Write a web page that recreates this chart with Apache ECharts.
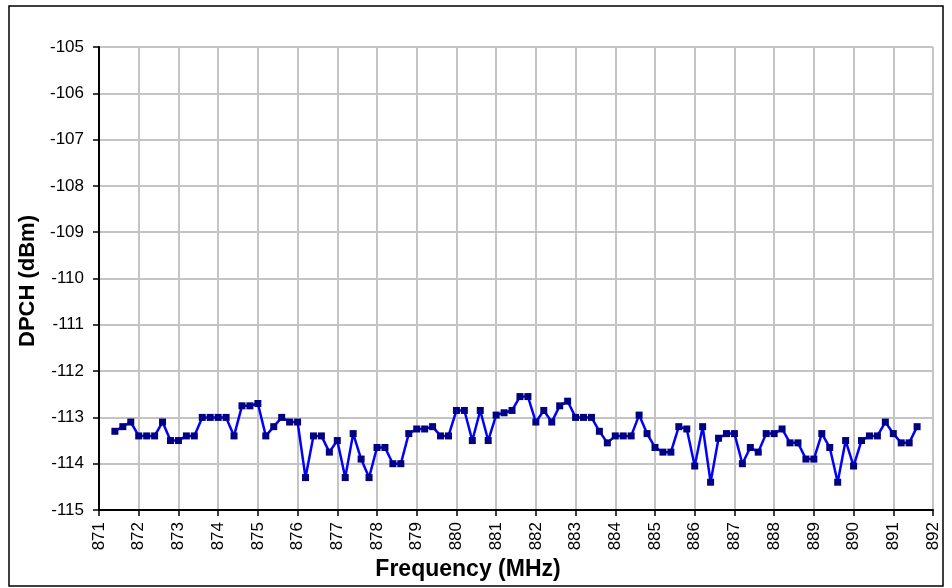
<!DOCTYPE html>
<html>
<head>
<meta charset="utf-8">
<script src="https://cdn.jsdelivr.net/npm/echarts@6/dist/echarts.min.js"></script>
<style>
  html, body { margin: 0; padding: 0; background: #fff; }
  #main { width: 952px; height: 588px; }
</style>
</head>
<body>
<div id="main"></div>
<script>
// frequency points, MHz (0.2 MHz step)
var freqStart = 871.4;
var freqStep = 0.2;
// DPCH level at each point, dBm
var dpch = [
  -113.3, -113.2, -113.1, -113.4, -113.4, -113.4, -113.1, -113.5, -113.5, -113.4,
  -113.4, -113.0, -113.0, -113.0, -113.0, -113.4, -112.75, -112.75, -112.7, -113.4,
  -113.2, -113.0, -113.1, -113.1, -114.3, -113.4, -113.4, -113.75, -113.5, -114.3,
  -113.35, -113.9, -114.3, -113.65, -113.65, -114.0, -114.0, -113.35, -113.25, -113.25,
  -113.2, -113.4, -113.4, -112.85, -112.85, -113.5, -112.85, -113.5, -112.95, -112.9,
  -112.85, -112.55, -112.55, -113.1, -112.85, -113.1, -112.75, -112.65, -113.0, -113.0,
  -113.0, -113.3, -113.55, -113.4, -113.4, -113.4, -112.95, -113.35, -113.65, -113.75,
  -113.75, -113.2, -113.25, -114.05, -113.2, -114.4, -113.45, -113.35, -113.35, -114.0,
  -113.65, -113.75, -113.35, -113.35, -113.25, -113.55, -113.55, -113.9, -113.9, -113.35,
  -113.65, -114.4, -113.5, -114.05, -113.5, -113.4, -113.4, -113.1, -113.35, -113.55,
  -113.55, -113.2
];
var xMin = 871, xMax = 892;
var yMin = -115, yMax = -105;

var points = dpch.map(function (v, i) {
  return [+(freqStart + i * freqStep).toFixed(1), v];
});

var chart = echarts.init(document.getElementById('main'));

var option = {
  backgroundColor: '#ffffff',
  animation: false,
  grid: { left: 99, right: 19, top: 47, bottom: 78 },
  xAxis: {
    type: 'value',
    min: xMin,
    max: xMax,
    interval: 1,
    axisLine: { show: true, lineStyle: { color: '#000', width: 2 } },
    axisTick: { show: true, length: 6, lineStyle: { color: '#000', width: 1.5 } },
    axisLabel: {
      rotate: 90,
      margin: 12,
      color: '#000',
      fontFamily: 'Liberation Sans, Arial',
      fontSize: 17
    },
    splitLine: { show: true, lineStyle: { color: '#c4c4c4', width: 2 } }
  },
  yAxis: {
    type: 'value',
    min: yMin,
    max: yMax,
    interval: 1,
    axisLine: { show: true, lineStyle: { color: '#000', width: 2 } },
    axisTick: { show: true, length: 6, lineStyle: { color: '#000', width: 1.5 } },
    axisLabel: {
      margin: 15,
      color: '#000',
      fontFamily: 'Liberation Sans, Arial',
      fontSize: 17
    },
    splitLine: { show: true, lineStyle: { color: '#c4c4c4', width: 2 } }
  },
  graphic: [
    {
      type: 'rect',
      shape: { x: 9, y: 6, width: 934, height: 580 },
      style: { fill: null, stroke: '#000', lineWidth: 1.5 },
      silent: true
    },
    {
      type: 'text',
      x: 28, y: 281,
      rotation: Math.PI / 2,
      style: {
        text: 'DPCH (dBm)',
        fill: '#000',
        font: 'bold 22px Liberation Sans, Arial',
        align: 'center',
        verticalAlign: 'middle'
      }
    },
    {
      type: 'text',
      x: 468, y: 570,
      style: {
        text: 'Frequency (MHz)',
        fill: '#000',
        font: 'bold 23px Liberation Sans, Arial',
        align: 'center',
        verticalAlign: 'middle'
      }
    }
  ],
  series: [{
    type: 'line',
    data: points,
    symbol: 'rect',
    symbolSize: 7,
    lineStyle: { color: '#0000ff', width: 2.5 },
    itemStyle: { color: '#000080' }
  }]
};

chart.setOption(option);
</script>
</body>
</html>
